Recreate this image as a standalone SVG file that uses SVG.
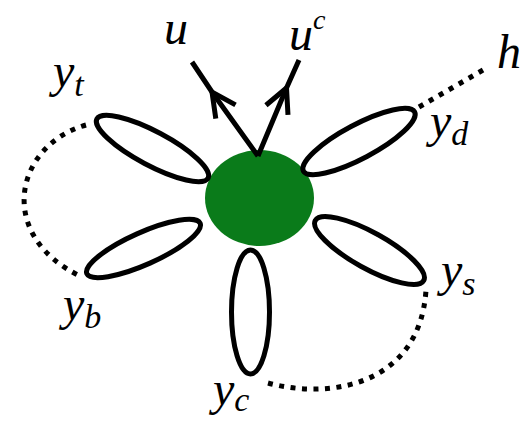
<svg xmlns="http://www.w3.org/2000/svg" width="522" height="422" viewBox="0 0 522 422">
<defs>
<style>
.petal{fill:#fff;stroke:#000;stroke-width:5}
.dot{fill:none;stroke:#000;stroke-width:5;stroke-dasharray:5 6.5}
.arr{fill:none;stroke:#000;stroke-width:5;marker-mid:url(#chev)}
.lbl{font-family:"Liberation Serif",serif;font-style:italic;font-size:48px;fill:#000}
.sub{font-size:34px}
</style>
<marker id="chev" markerUnits="userSpaceOnUse" orient="auto" markerWidth="40" markerHeight="40" refX="0" refY="0" viewBox="-30 -20 40 40" overflow="visible">
<path d="M-24,-12 L0,0 L-24,12" fill="none" stroke="#000" stroke-width="5" stroke-linejoin="miter"/>
</marker>
</defs>
<g id="connectors">
<path class="dot" d="M419,107 L483,70"/>
<path class="dot" d="M86,125 C15,145 -5,235 80,276"/>
<path class="dot" d="M268,383 C330,400 420,385 426,290"/>
</g>
<g id="center"><ellipse cx="259.5" cy="198" rx="54.5" ry="48" fill="#0a7b1a"/></g>
<g id="arrows">
<path class="arr" d="M258,156 L212,92 L192,62"/>
<path class="arr" d="M258,156 L286.5,88 L299,60"/>
</g>
<g id="yt"><ellipse class="petal" cx="152.5" cy="148.5" rx="63" ry="17" transform="rotate(28 152.5 148.5)"/></g>
<g id="yd"><ellipse class="petal" cx="359" cy="141.5" rx="63" ry="17" transform="rotate(-28 359 141.5)"/></g>
<g id="yb"><ellipse class="petal" cx="143.5" cy="248.5" rx="62" ry="16" transform="rotate(-24 143.5 248.5)"/></g>
<g id="ys"><ellipse class="petal" cx="369.5" cy="250.5" rx="62" ry="18" transform="rotate(29 369.5 250.5)"/></g>
<g id="yc"><ellipse class="petal" cx="250.5" cy="312" rx="19" ry="62"/></g>
<g id="labels">
<text class="lbl" x="164" y="44">u</text>
<text class="lbl" x="289" y="50">u<tspan font-size="28" dy="-21">c</tspan></text>
<text class="lbl" x="497" y="68">h</text>
<text class="lbl" x="53" y="87">y<tspan class="sub" dy="9">t</tspan></text>
<text class="lbl" x="430" y="137">y<tspan class="sub" dy="8">d</tspan></text>
<text class="lbl" x="63" y="320">y<tspan class="sub" dy="8">b</tspan></text>
<text class="lbl" x="441" y="286">y<tspan class="sub" dy="9">s</tspan></text>
<text class="lbl" x="213" y="405">y<tspan class="sub" dy="6">c</tspan></text>
</g>
</svg>
